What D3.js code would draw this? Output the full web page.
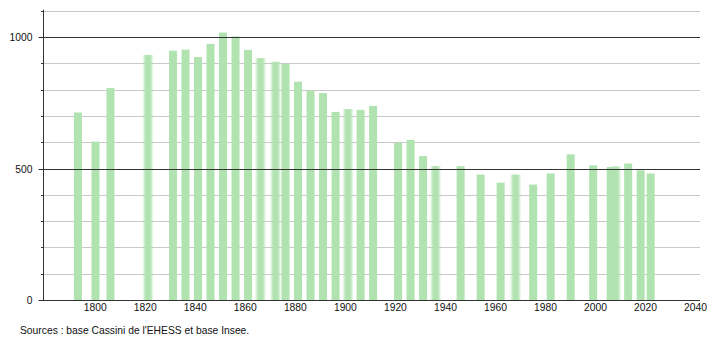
<!DOCTYPE html>
<html>
<head>
<meta charset="utf-8">
<script src="https://cdn.jsdelivr.net/npm/d3@7"></script>
<style>
  body { margin: 0; background: #fff; }
  svg { display: block; font-family: "Liberation Sans", Arial, sans-serif; }
</style>
</head>
<body>
<div id="chart"></div>
<script>
// census years and population
const years = [1793, 1800, 1806, 1821, 1831, 1836, 1841, 1846, 1851, 1856,
  1861, 1866, 1872, 1876, 1881, 1886, 1891, 1896, 1901, 1906,
  1911, 1921, 1926, 1931, 1936, 1946, 1954, 1962, 1968, 1975,
  1982, 1990, 1999, 2006, 2008, 2013, 2018, 2022];
const population = [713, 602, 806, 932, 948, 952, 924, 974, 1017, 1002,
  951, 920, 906, 898, 830, 796, 787, 715, 726, 723,
  738, 598, 609, 547, 509, 509, 477, 446, 477, 439,
  481, 554, 512, 506, 508, 519, 493, 481];
// bars drawn with soft edges in the original
const softYears = [1821, 1866, 1872, 1901, 1936, 1968, 2008];

const xTicks = [1800, 1820, 1840, 1860, 1880, 1900, 1920, 1940, 1960, 1980, 2000, 2020, 2040];
const yLabels = [0, 500, 1000];
const yGrid = [100, 200, 300, 400, 600, 700, 800, 900, 1100];

const width = 710, height = 340;
const plotLeft = 43.5, plotRight = 700, plotTop = 10.7, plotBottom = 300;
const fontSize = 10.3;

const svg = d3.select("#chart").append("svg")
  .attr("width", width)
  .attr("height", height);

const defs = svg.append("defs");
defs.append("filter").attr("id", "soft")
  .attr("x", "-50%").attr("width", "200%")
  .append("feGaussianBlur").attr("stdDeviation", "1.2 0");

const x = d3.scaleLinear().domain([1779.5, 2042]).range([plotLeft, plotRight]);
const y = d3.scaleLinear().domain([0, 1100]).range([plotBottom, plotTop]);

// light grid
svg.append("g").selectAll("line")
  .data(yGrid)
  .join("line")
  .attr("x1", plotLeft).attr("x2", plotRight)
  .attr("y1", d => Math.round(y(d)) + 0.5).attr("y2", d => Math.round(y(d)) + 0.5)
  .attr("stroke", "#c8c8c8").attr("stroke-width", 1);

// small ticks for the light grid
svg.append("g").selectAll("line")
  .data(yGrid)
  .join("line")
  .attr("x1", plotLeft - 2.5).attr("x2", plotLeft)
  .attr("y1", d => Math.round(y(d)) + 0.5).attr("y2", d => Math.round(y(d)) + 0.5)
  .attr("stroke", "#333").attr("stroke-width", 1);

// bars
const data = years.map((yr, i) => ({ year: yr, value: population[i] }));
svg.append("g").selectAll("rect")
  .data(data)
  .join("rect")
  .attr("x", d => x(d.year) - 3.3)
  .attr("width", 8)
  .attr("y", d => y(d.value))
  .attr("height", d => plotBottom - y(d.value))
  .attr("fill", "#b1e3b1")
  .attr("filter", d => softYears.includes(d.year) ? "url(#soft)" : null);

// dark grid at labelled values
svg.append("g").selectAll("line")
  .data(yLabels)
  .join("line")
  .attr("x1", plotLeft - 5).attr("x2", plotRight)
  .attr("y1", d => Math.round(y(d)) + 0.5).attr("y2", d => Math.round(y(d)) + 0.5)
  .attr("stroke", "#333").attr("stroke-width", 1);

// y axis line
svg.append("line")
  .attr("x1", plotLeft).attr("x2", plotLeft)
  .attr("y1", plotTop - 1).attr("y2", plotBottom)
  .attr("stroke", "#333");

// y labels
svg.append("g").selectAll("text")
  .data(yLabels)
  .join("text")
  .attr("x", 32.5)
  .attr("y", d => y(d) + 4)
  .attr("text-anchor", "end")
  .attr("font-size", fontSize)
  .attr("fill", "#111")
  .text(d => d);

// x axis labels
const xAxis = d3.axisBottom(x).tickValues(xTicks).tickSize(0).tickPadding(4).tickFormat(d3.format("d"));
const gx = svg.append("g").attr("transform", `translate(0,${plotBottom})`).call(xAxis);
gx.select(".domain").remove();
gx.selectAll("text").attr("font-size", fontSize).attr("fill", "#111").attr("font-family", "Liberation Sans, Arial, sans-serif");

svg.append("text")
  .attr("x", 20)
  .attr("y", 333.5)
  .attr("font-size", fontSize)
  .attr("fill", "#111")
  .text("Sources : base Cassini de l'EHESS et base Insee.");
</script>
</body>
</html>
